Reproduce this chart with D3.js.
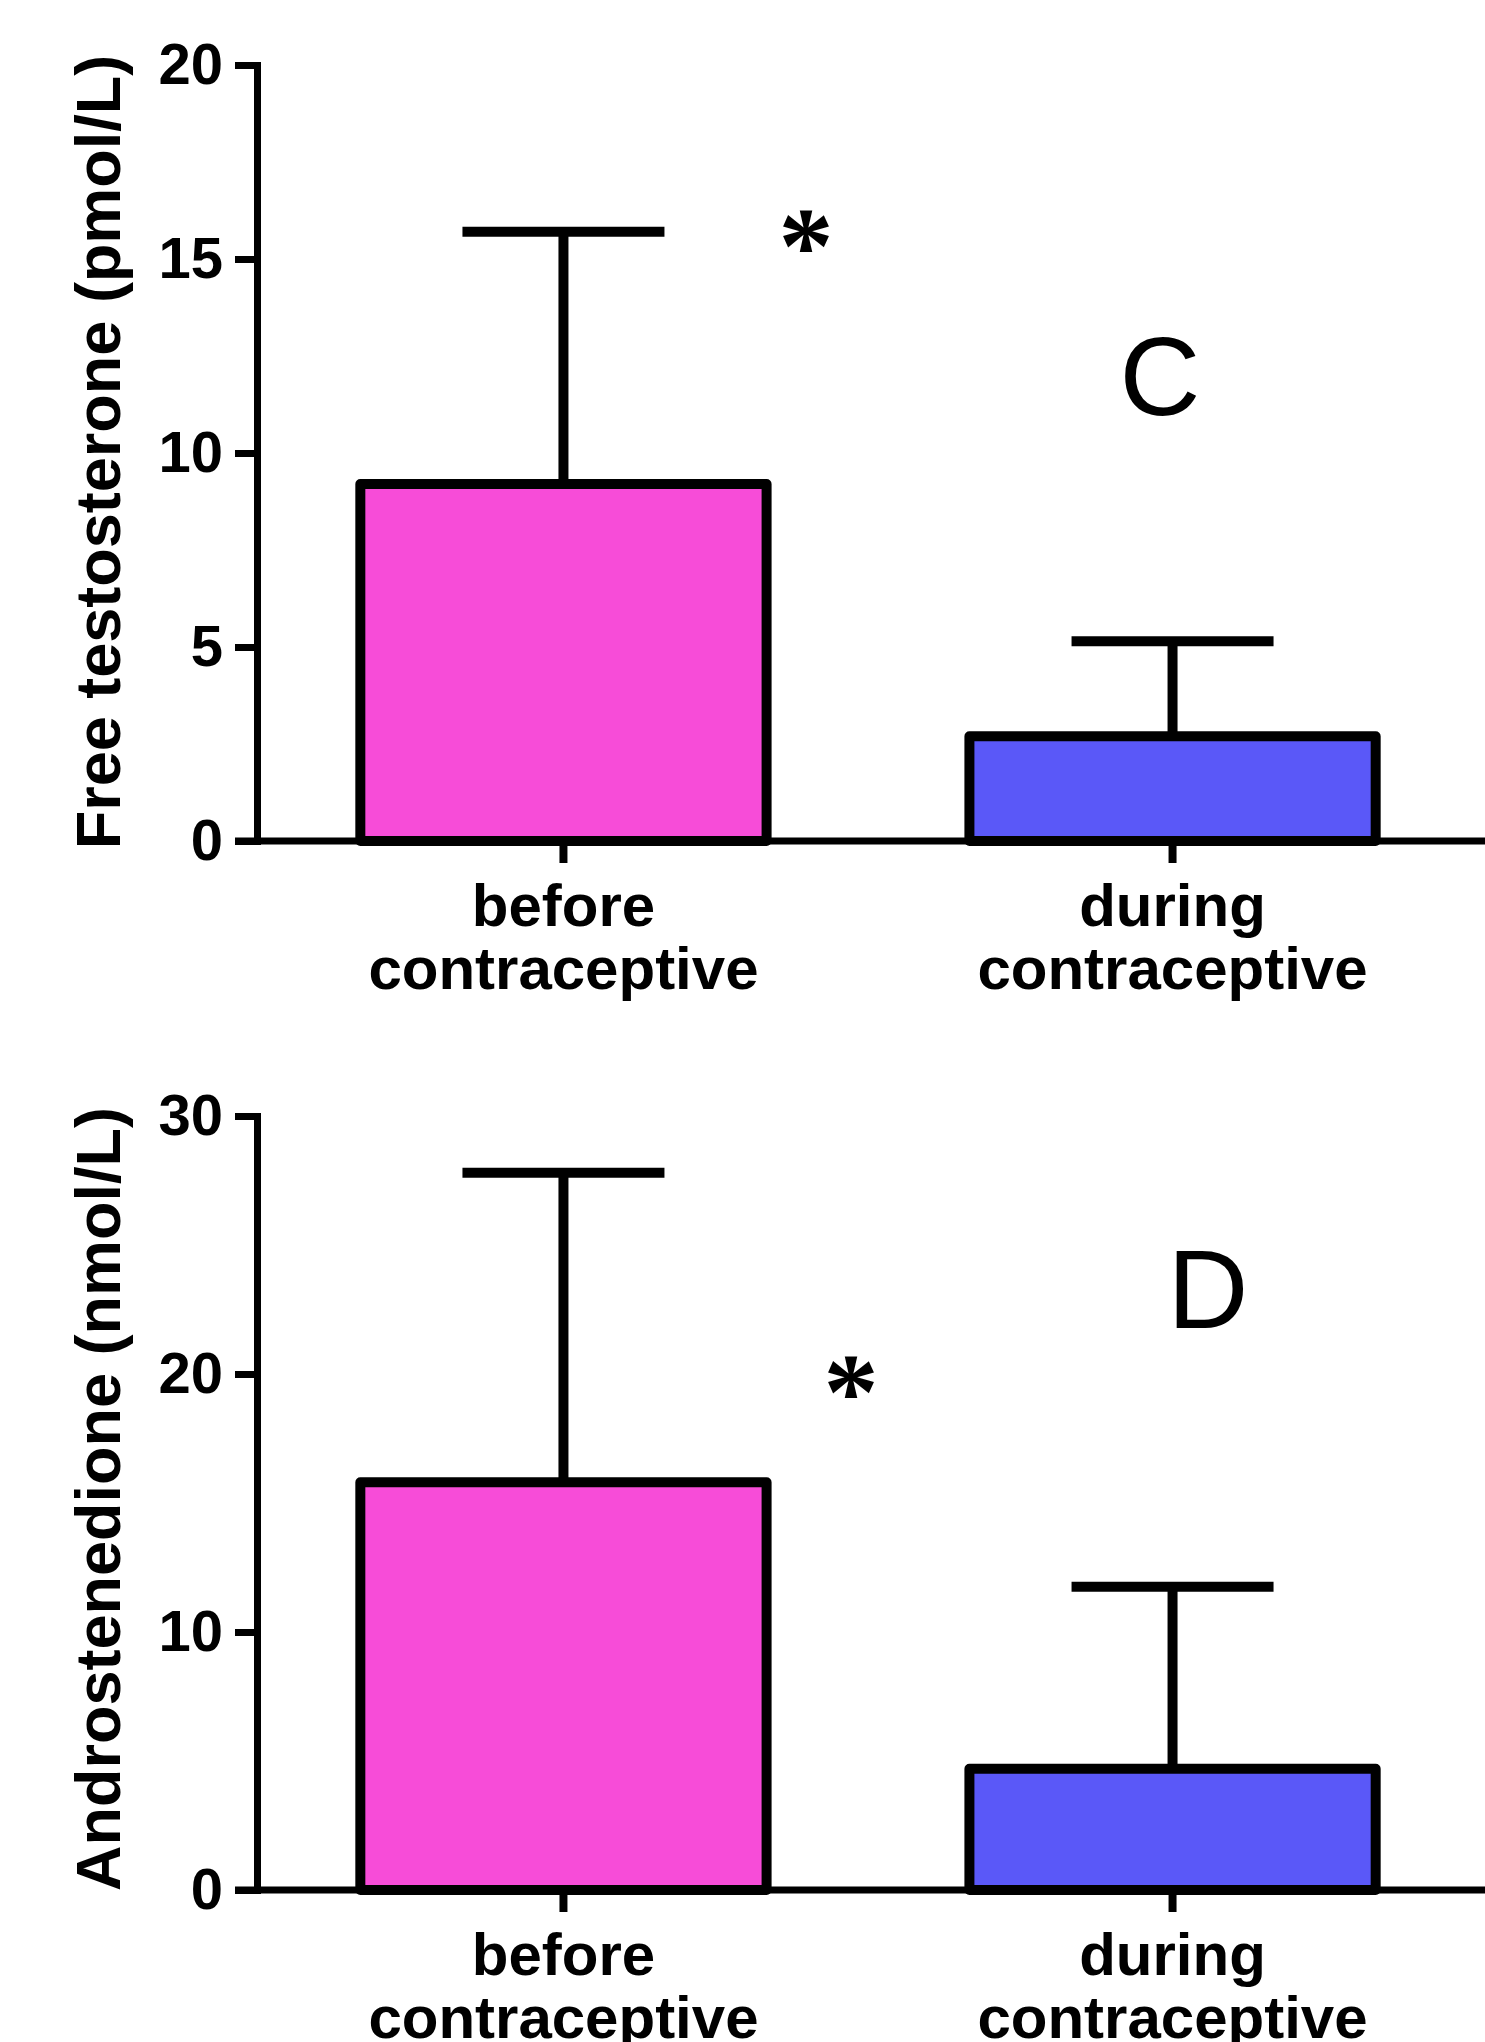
<!DOCTYPE html>
<html>
<head>
<meta charset="utf-8">
<script src="https://cdn.jsdelivr.net/npm/d3@7"></script>
<style>
  body { margin: 0; background: #fff; }
  svg { display: block; }
</style>
</head>
<body>
<svg id="chart" width="1485" height="2042"></svg>
<script>
// categories (two-line labels)
var categories = ["before contraceptive", "during contraceptive"];
var barColors = ["#f74cd8", "#5a58f8"];

// panel C: free testosterone
var testoMean = [9.2, 2.7];
var testoSD = [6.5, 2.45];
var testoTicks = [0, 5, 10, 15, 20];

// panel D: androstenedione
var andrMean = [15.8, 4.7];
var andrSD = [12.0, 7.05];
var andrTicks = [0, 10, 20, 30];

var sans = "'Liberation Sans', Arial, sans-serif";
var serif = "'Liberation Serif', 'Times New Roman', serif";

var svg = d3.select("#chart");
svg.append("rect").attr("width", 1485).attr("height", 2042).attr("fill", "#fff");

var axisX = 257, lw = 7, barStroke = 10;

var x = d3.scaleBand()
    .domain(categories)
    .range([258, 1478])
    .paddingInner(0.333)
    .paddingOuter(0.168);

function panel(opt) {
    var y = d3.scaleLinear().domain(opt.domain).range([opt.y0, opt.y1]);
    var g = svg.append("g");
    var data = categories.map(function(c, i) {
        return {cat: c, mean: opt.mean[i], sd: opt.sd[i], color: barColors[i]};
    });
    var cx = function(d) { return x(d.cat) + x.bandwidth() / 2; };

    // error bars (upper only)
    var eb = g.selectAll(".err").data(data).enter().append("g").attr("class", "err");
    eb.append("line")
        .attr("x1", cx).attr("x2", cx)
        .attr("y1", function(d) { return y(d.mean); })
        .attr("y2", function(d) { return y(d.mean + d.sd); })
        .attr("stroke", "#000").attr("stroke-width", barStroke);
    eb.append("line")
        .attr("x1", function(d) { return cx(d) - 101; })
        .attr("x2", function(d) { return cx(d) + 101; })
        .attr("y1", function(d) { return y(d.mean + d.sd); })
        .attr("y2", function(d) { return y(d.mean + d.sd); })
        .attr("stroke", "#000").attr("stroke-width", barStroke);

    // bars
    g.selectAll(".bar").data(data).enter().append("rect")
        .attr("class", "bar")
        .attr("x", function(d) { return x(d.cat); })
        .attr("width", x.bandwidth())
        .attr("y", function(d) { return y(d.mean); })
        .attr("height", function(d) { return y(0) - y(d.mean); })
        .attr("fill", function(d) { return d.color; })
        .attr("stroke", "#000")
        .attr("stroke-width", barStroke)
        .attr("stroke-linejoin", "round");

    // x axis baseline
    g.append("line")
        .attr("x1", axisX - 22).attr("x2", 1485)
        .attr("y1", y(0)).attr("y2", y(0))
        .attr("stroke", "#000").attr("stroke-width", lw);

    var xa = g.append("g")
        .attr("transform", "translate(0," + y(0) + ")")
        .call(d3.axisBottom(x).tickSize(22).tickFormat(""));
    xa.select(".domain").remove();
    xa.selectAll(".tick line").attr("stroke-width", 8);

    // category labels
    var lab = g.selectAll(".xlab").data(data).enter().append("text")
        .attr("class", "xlab")
        .attr("text-anchor", "middle")
        .style("font-family", sans)
        .attr("font-size", 60)
        .attr("font-weight", "bold")
        .attr("fill", "#000");
    lab.append("tspan")
        .attr("x", cx)
        .attr("y", y(0) + 85)
        .text(function(d) { return d.cat.split(" ")[0]; });
    lab.append("tspan")
        .attr("x", cx)
        .attr("y", y(0) + 148)
        .text(function(d) { return d.cat.split(" ")[1]; });

    // y axis
    var ya = g.append("g")
        .attr("transform", "translate(" + axisX + ",0)")
        .call(d3.axisLeft(y).tickValues(opt.ticks).tickSize(22).tickSizeOuter(0).tickPadding(12));
    ya.select(".domain").attr("stroke-width", lw).attr("stroke-linecap", "square");
    ya.selectAll(".tick line").attr("stroke-width", lw);
    ya.selectAll(".tick text")
        .style("font-family", sans)
        .attr("font-size", 58)
        .attr("font-weight", "bold")
        .attr("fill", "#000");

    // y title
    g.append("text")
        .attr("transform", "translate(120," + opt.titleY + ") rotate(-90)")
        .attr("text-anchor", "middle")
        .style("font-family", sans)
        .attr("font-size", 63)
        .attr("font-weight", "bold")
        .attr("fill", "#000")
        .text(opt.title);

    // significance mark
    g.append("text")
        .attr("x", opt.star[0]).attr("y", opt.star[1] + 52)
        .attr("text-anchor", "middle")
        .style("font-family", serif)
        .attr("font-size", 110)
        .attr("font-weight", "bold")
        .attr("fill", "#000")
        .text("*");

    // panel letter
    g.append("text")
        .attr("x", opt.letter[0]).attr("y", opt.letter[1])
        .attr("text-anchor", "middle")
        .style("font-family", sans)
        .attr("font-size", 112)
        .attr("fill", "#000")
        .text(opt.letterText);
}

panel({
    domain: [0, 20], y0: 841, y1: 65,
    mean: testoMean, sd: testoSD, ticks: testoTicks,
    title: "Free testosterone (pmol/L)", titleY: 452,
    star: [806, 231], letter: [1160, 415], letterText: "C"
});

panel({
    domain: [0, 30], y0: 1890, y1: 1116,
    mean: andrMean, sd: andrSD, ticks: andrTicks,
    title: "Androstenedione (nmol/L)", titleY: 1499,
    star: [851, 1377], letter: [1208, 1328], letterText: "D"
});
</script>
</body>
</html>
